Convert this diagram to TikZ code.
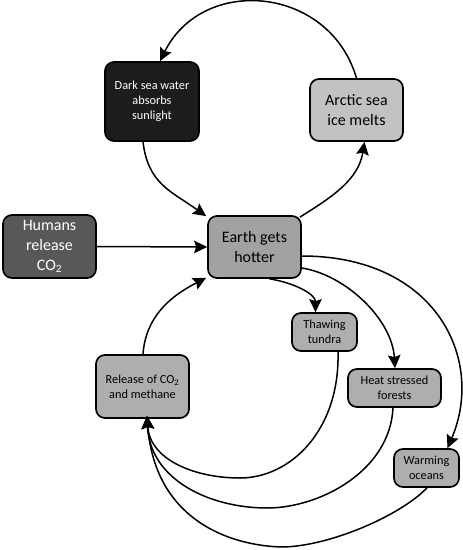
\documentclass[tikz,border=0pt]{standalone}
\usepackage{fontspec}
\setmainfont{Carlito}
\usetikzlibrary{arrows.meta}
\definecolor{cdark}{HTML}{1C1C1C}
\definecolor{chum}{HTML}{585858}
\definecolor{cearth}{HTML}{A2A2A2}
\definecolor{carctic}{HTML}{C2C2C2}
\definecolor{cfx}{HTML}{AEAEAE}
\begin{document}
\begin{tikzpicture}[x=1pt,y=-1pt,
  box/.style={draw=black, line width=1.7pt, rounded corners=9pt, align=center, inner sep=1pt},
  bigtxt/.style={font=\fontsize{16}{20}\selectfont},
  smalltxt/.style={font=\fontsize{12.3}{15}\selectfont},
  conn/.style={line width=1.5pt, -{Stealth[length=13pt,width=12.5pt,inset=2pt]}},
  plain/.style={line width=1.5pt}]
\useasboundingbox (0,0) rectangle (463,550);
\fill[white] (0,0) rectangle (463,550);

\node[box, smalltxt, fill=cdark, text=white, minimum width=94pt, minimum height=79pt] (dark) at (152,101.5) {Dark sea water\\absorbs\\sunlight};
\node[box, bigtxt, fill=carctic, minimum width=93pt, minimum height=62pt] (arctic) at (356.5,110) {Arctic sea\\ice melts};
\node[box, bigtxt, fill=chum, text=white, minimum width=93pt, minimum height=63pt] (humans) at (49.5,246.5) {Humans\\release\\CO\textsubscript{2}};
\node[box, bigtxt, fill=cearth, minimum width=93pt, minimum height=62pt] (earth) at (254.5,247) {Earth gets\\hotter};
\node[box, smalltxt, fill=cfx, minimum width=65pt, minimum height=38pt] (thaw) at (324.5,332) {Thawing\\tundra};
\node[box, smalltxt, fill=cfx, minimum width=93pt, minimum height=38pt] (heat) at (394.5,388) {Heat stressed\\forests};
\node[box, smalltxt, fill=cfx, minimum width=65pt, minimum height=38pt] (warm) at (426.5,468) {Warming\\oceans};
\node[box, smalltxt, fill=cfx, minimum width=93pt, minimum height=63pt] (release) at (142.5,386.5) {Release of CO\textsubscript{2}\\and methane};

% top loop
\draw[conn] (arctic.north) .. controls +(-27,-92.5) and +(43,-86.5) .. ([xshift=8pt]dark.north);
\draw[conn] ([xshift=-9pt]dark.south) .. controls +(5,42) and +(-35,-25) .. ([xshift=-1pt,yshift=-1pt]earth.north west);
\draw[conn] ([xshift=-2pt,yshift=-2pt]earth.north east) .. controls +(32,-20) and +(-6,38) .. ([xshift=8pt]arctic.south);

% humans
\draw[conn] (humans.east) -- (earth.west);

% from earth
\draw[conn] ([yshift=-9pt]earth.east) .. controls +(134,0) and +(38,-89) .. ([xshift=21pt]warm.north);
\draw[conn] ([yshift=-21pt]earth.east) .. controls +(44,7) and +(-3,-49) .. ([xshift=0.5pt]heat.north);
\draw[conn] ([xshift=15pt]earth.south) .. controls +(25,4) and +(0,-18) .. ([xshift=-9pt]thaw.north);

% release to earth
\draw[conn] ([xshift=0.5pt]release.north) .. controls +(3,-42) and +(-29,15) .. ([xshift=-1pt,yshift=1pt]earth.south west);

% returns to release
\coordinate (m1) at (240,478);
\coordinate (m2) at (267,508);
\coordinate (m3) at (283,547);
\draw[plain] ([xshift=13.5pt]thaw.south) .. controls +(2,79) and (290,478) .. (m1);
\draw[conn] (m1) .. controls (195,478) and (150,460) .. ([xshift=4.5pt,yshift=3pt]release.south);
\draw[plain] ([xshift=-1.5pt]heat.south) .. controls +(-3,63) and (320,508) .. (m2);
\draw[conn] (m2) .. controls (210,508) and (150,480) .. ([xshift=4.5pt,yshift=3pt]release.south);
\draw[plain] ([xshift=0.5pt]warm.south) .. controls +(-27,28) and (330,546) .. (m3);
\draw[conn] (m3) .. controls (230,546) and (155,520) .. ([xshift=4.5pt,yshift=3pt]release.south);
\end{tikzpicture}
\end{document}
